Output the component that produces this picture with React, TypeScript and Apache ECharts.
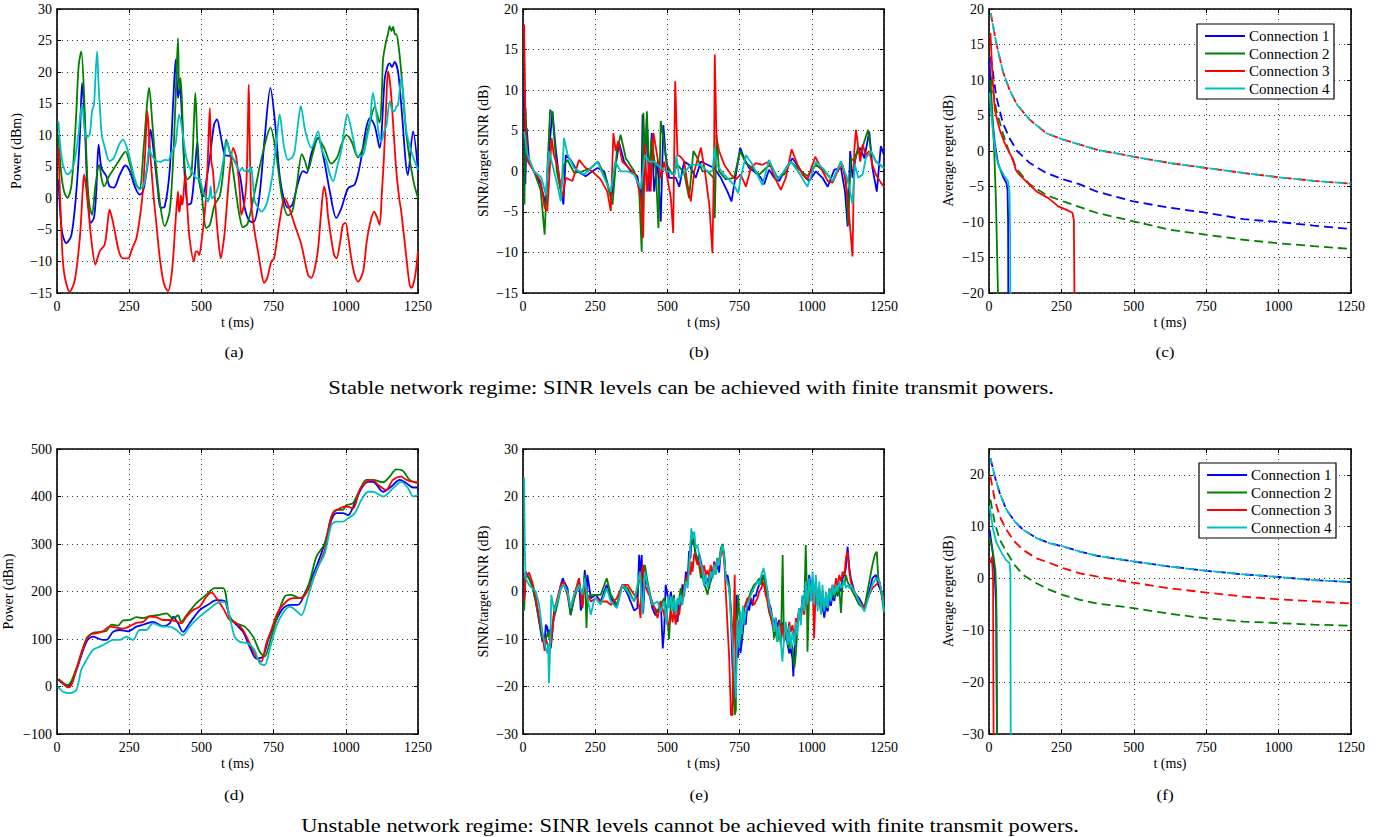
import React, { useEffect, useRef } from "react";
import * as echarts from "echarts";

// ---------------- data ----------------
const T_MIN = 0;
const T_MAX = 1250;
const T_STEP = 250;
const CONNECTIONS = ["Connection 1", "Connection 2", "Connection 3", "Connection 4"];
const PANEL_LABELS = ["(a)", "(b)", "(c)", "(d)", "(e)", "(f)"];
const CAPTIONS = [
  "Stable network regime: SINR levels can be achieved with finite transmit powers.",
  "Unstable network regime: SINR levels cannot be achieved with finite transmit powers.",
];
const Y_TITLES = [
  "Power (dBm)",
  "SINR/target SINR (dB)",
  "Average regret (dB)",
  "Power (dBm)",
  "SINR/target SINR (dB)",
  "Average regret (dB)",
];
// [min, max, interval]
const Y_RANGES = [
  [-15, 30, 5],
  [-15, 20, 5],
  [-20, 20, 5],
  [-100, 500, 100],
  [-30, 30, 10],
  [-30, 25, 10],
];

// (a) stable power
const stablePower1 = [[5,3],[9,-0.5],[17,-5.2],[32,-7.1],[50,-5.8],[67,1.1],[79,9.6],[87,18.3],[96,12.2],[105,1.6],[117,-3.9],[128,-3.1],[136,1.1],[144,8.5],[154,4.8],[171,3.5],[182,1.9],[197,1.7],[217,3.7],[237,5.2],[252,4.3],[269,1.9],[286,0.6],[298,1.1],[315,5.9],[324,10.9],[336,6.9],[350,1.1],[359,-1.5],[373,-1.3],[390,4.3],[402,14.9],[411,22],[419,15.9],[425,17.8],[433,12.7],[444,2.2],[454,-1],[465,-0.7],[477,4.3],[486,9],[494,2.7],[506,0.3],[511,1.1],[529,6.4],[544,11.7],[554,12.5],[566,10.1],[581,6.9],[598,6.7],[615,5.9],[633,3.7],[650,-1.5],[665,-3.5],[680,-3.8],[700,0],[720,10],[739,17.5],[755,12],[770,4],[785,0],[800,-1.5],[815,-1],[835,2.5],[852,4.3],[865,4],[880,7],[904,9.6],[925,6],[945,1],[967,-3.1],[985,-1.5],[1008,1.6],[1031,2.2],[1050,5.5],[1070,11],[1083,12.7],[1100,11.5],[1117,8],[1135,19],[1145,21],[1152,21.4],[1160,20.8],[1169,21.6],[1181,20],[1192,14.8],[1215,3.7],[1233,10.6],[1250,4.3]];
const stablePower2 = [[5,10],[15,3.8],[25,1],[36,0.1],[50,2],[65,12],[75,21],[84,23.3],[95,15],[105,3],[112,-1],[121,-2.6],[133,2],[146,5.3],[155,3],[163,1.9],[180,3.5],[194,4.5],[215,6],[237,7.4],[255,5],[275,2],[286,1.6],[300,8],[312,15],[319,17.5],[330,12],[338,7.4],[356,-0.5],[373,-4.4],[390,-2.1],[402,6],[410,14.9],[419,25.4],[423,17],[428,19.1],[440,6.4],[451,3],[465,3.8],[474,12],[479,16.7],[485,10],[491,3],[500,1],[517,-4.7],[529,-4.2],[546,-1],[563,0.3],[575,4],[586,9.3],[604,6],[621,0.5],[633,-3],[644,-4.6],[660,-4],[680,0],[702,5],[725,9.5],[739,11.2],[759,7],[780,0],[800,-2.7],[815,-2],[830,2],[848,7],[858,6],[869,4.5],[885,7],[904,9.5],[925,8],[950,5.5],[970,6.5],[985,8.5],[1002,10],[1020,9],[1042,6.5],[1060,8],[1083,12],[1100,14.5],[1117,12],[1125,17],[1129,22],[1140,25],[1146,26],[1152,27.3],[1158,26.5],[1164,27.2],[1170,26],[1175,26],[1183,24],[1192,20],[1210,10],[1233,3],[1250,0]];
const stablePower3 = [[5,8],[15,-5],[24,-11.6],[44,-14.8],[61,-13.1],[79,-6.3],[90,2],[94,3.8],[100,2],[107,-1],[120,-7],[133,-10.5],[140,-9.5],[148,-8.4],[165,-7.3],[175,-4],[182,-1.8],[190,-3],[200,-5.2],[215,-8.5],[229,-9.5],[246,-9.5],[260,-8],[275,-6.3],[290,-2],[298,1.6],[305,7],[313,13.8],[320,9],[332,1.6],[345,-4.5],[356,-9.5],[370,-13.5],[384,-14.7],[398,-11.6],[410,-4],[419,1.1],[422,-2],[425,-2.1],[429,0.5],[433,-1],[436,-0.5],[444,3.8],[452,-2],[459,-6.3],[474,-10],[480,-8.5],[486,-8.4],[492,-9],[500,-7],[514,-1],[522,6],[529,14.3],[534,6],[540,4.3],[550,-2],[558,-6.3],[567,-9.5],[575,-7.5],[581,-5.2],[590,0],[598,4.3],[610,8],[621,6.4],[633,1.1],[638,-2.6],[648,-1],[656,2.7],[662,14],[664,18],[667,10],[673,-1],[685,-5.5],[696,-8.4],[707,-11.5],[717,-13.4],[728,-12.6],[742,-10],[752,-9.5],[771,-3.6],[788,0],[800,-1],[823,-4.2],[846,-7.3],[869,-12.1],[881,-12.6],[893,-11],[904,-8],[915,-2],[925,1.9],[933,0],[939,-3],[959,-8.9],[968,-9.5],[980,-7],[990,-4.2],[999,-3.9],[1008,-6],[1019,-9.5],[1030,-12],[1042,-13.2],[1060,-11.6],[1072,-7],[1083,-4.2],[1098,-2.1],[1108,-3],[1117,-4.2],[1125,1],[1132,6.4],[1140,15],[1146,20.1],[1155,17.5],[1167,9.6],[1175,4.3],[1185,0],[1192,-2.1],[1210,-9.5],[1221,-13.7],[1227,-14.2],[1239,-12.6],[1250,-8.4]];
const stablePower4 = [[5,12.2],[12,8],[21,5.3],[36,3.8],[55,4.8],[73,9.6],[80,13],[87,14.8],[95,11],[102,9.6],[113,10.1],[122,14],[128,14.8],[134,20],[139,23.3],[144,18],[148,14.8],[155,10],[163,8.5],[182,5.9],[197,6.4],[215,8.5],[229,9.3],[246,7.4],[269,3.2],[286,1.4],[301,2.2],[312,5],[319,8],[326,7],[344,5.9],[360,5.8],[373,6.1],[385,6],[396,7.2],[410,8.5],[416,11],[423,13.3],[436,10.1],[448,6.4],[465,4.3],[482,3.2],[494,3],[506,1.1],[515,0],[523,-0.5],[528,0.5],[532,1.9],[536,0],[540,0.1],[552,1],[563,2.7],[581,7.4],[589,9],[597,7.5],[604,6.9],[621,5.3],[633,4.3],[640,4.8],[650,4.3],[660,4.6],[667,4],[672,5],[676,3.8],[685,-0.5],[697,-1.5],[708,-2.1],[725,-1],[740,2],[748,4.3],[760,9],[771,13.3],[785,8.5],[800,6.1],[815,6.5],[823,7.5],[835,12],[844,14.6],[860,10.6],[881,8],[904,10.6],[915,8],[933,5.9],[945,3.8],[956,2.7],[970,5],[985,7.7],[995,11],[1005,13.3],[1025,9.6],[1042,6.7],[1060,6.9],[1075,10],[1083,11.6],[1094,16.7],[1106,13.3],[1115,10],[1123,9],[1132,10.5],[1141,11.6],[1152,15.4],[1160,14],[1167,13.8],[1175,14.5],[1181,14.8],[1192,19.1],[1200,16],[1210,10.6],[1227,7.4],[1250,4.5]];

// (b) stable SINR / target
const stableSinr1 = [[5,10],[8,-1.6],[13,5.3],[21,1.2],[38,0],[61,-1.6],[79,-4.1],[90,2.5],[102,7.4],[113,2.9],[125,-0.8],[140,-4.1],[148,2],[165,1.4],[188,0],[217,-0.6],[240,0],[258,0.4],[281,0],[306,-3.3],[321,0.8],[333,3.5],[350,1.2],[373,0],[396,-0.6],[410,-3.7],[414,7],[419,-2.5],[429,6.6],[437,-2.5],[446,4.7],[454,-2.5],[466,1.2],[477,-6.2],[486,5.7],[494,2],[506,-0.8],[529,-0.8],[541,-1.9],[558,1.2],[575,0.8],[598,-0.8],[616,1.2],[639,0.8],[662,0.4],[685,-0.8],[708,-2.5],[722,-3.7],[737,-0.4],[752,2.9],[766,1.6],[783,0.4],[800,0],[824,-0.8],[835,-1.6],[852,0.2],[870,-0.8],[887,-1.2],[904,0],[933,1.6],[956,0.4],[979,-0.8],[991,-1.2],[1014,0],[1037,-0.8],[1055,-1.9],[1078,0.2],[1101,0.4],[1115,-2.5],[1124,-6.8],[1133,2.5],[1141,-0.8],[1153,2],[1168,2.9],[1182,1.6],[1199,4.9],[1210,0.4],[1225,-2.5],[1239,3.1],[1250,2]];
const stableSinr2 = [[5,-4.1],[9,7.8],[15,1.6],[38,0],[61,-2.3],[75,-7.8],[84,0],[94,7.6],[102,7],[117,0],[131,-2.5],[142,0.8],[154,1.4],[177,-0.2],[206,0],[235,0.4],[260,1.2],[286,-0.8],[310,-4.1],[325,2.5],[338,4.5],[356,1.6],[385,0],[402,-2.1],[411,-9.9],[417,7.2],[423,0.8],[429,7.4],[437,-0.8],[445,4.1],[460,0],[469,-7],[477,6.2],[486,4.1],[498,0.8],[517,-0.4],[535,0.8],[558,-0.2],[575,-3.3],[590,2.5],[604,1.6],[621,0],[639,0],[660,-0.8],[664,-5.8],[670,4.5],[679,0],[702,-1],[731,-0.8],[752,2.5],[772,1],[795,0.4],[818,-0.4],[841,0.4],[858,0.8],[881,-0.8],[904,-0.4],[927,1.2],[956,0.2],[985,-0.6],[1014,0.8],[1043,0],[1072,-1.2],[1101,1.2],[1118,-0.8],[1126,-6.6],[1135,1.6],[1149,1.2],[1160,3],[1168,2],[1182,3.7],[1195,5.1],[1205,2.5],[1222,1.2],[1250,0.4]];
const stableSinr3 = [[4,18.1],[9,4.9],[17,1.2],[38,0],[61,-1.2],[75,-4.5],[84,-4.9],[94,1],[99,4.1],[107,2],[121,0.4],[136,-3.3],[148,-0.8],[171,-1.2],[194,1.4],[217,0.4],[240,0],[269,-1],[292,-2.5],[304,-4.9],[313,4.7],[321,2.5],[330,3.7],[344,1.2],[367,0.4],[390,-0.4],[408,-3.3],[416,-8.2],[422,3.3],[429,-2.5],[437,1.2],[442,-2.5],[452,4.7],[466,1.6],[477,-0.8],[489,1.2],[500,-0.8],[512,-3.3],[520,-7.6],[527,11.1],[535,2],[546,1.8],[558,1.2],[570,-1.7],[581,-3.7],[593,0],[616,2.9],[630,0],[645,-4.1],[656,-10.1],[662,2.9],[664,14.4],[670,4.1],[679,2.5],[697,0.8],[720,-0.4],[737,-1],[754,-0.4],[772,-1.9],[789,0.4],[806,1],[829,0.8],[852,1.2],[872,-0.8],[893,-2.3],[910,-0.8],[930,2.7],[951,0.8],[968,-0.4],[985,-1],[1012,1.8],[1032,0.4],[1055,-1.2],[1072,-1.4],[1089,0],[1107,0.8],[1122,-2.5],[1130,-5.8],[1141,-10.5],[1147,2.5],[1153,5.1],[1161,2.9],[1168,1.2],[1176,3.3],[1187,2],[1199,2.5],[1210,0.8],[1222,-0.4],[1239,-1.4],[1250,-1.9]];
const stableSinr4 = [[4,4.9],[15,2.1],[38,0],[64,-0.8],[79,-2.9],[90,2.5],[102,0.8],[119,-1.7],[131,-3.7],[142,4.1],[154,2.1],[177,0.4],[211,-0.4],[235,0.4],[258,1.2],[281,-0.8],[304,-2.5],[319,1.2],[338,0],[362,0],[385,-0.4],[408,-2.1],[422,2],[437,1.2],[454,1.2],[477,0.4],[500,0],[526,-0.4],[531,2],[541,-0.8],[558,-0.2],[581,0.8],[604,0.8],[616,0.8],[639,0],[656,0],[664,2.9],[670,0.8],[697,-0.4],[731,-1.7],[745,-2.7],[754,-0.8],[772,2],[795,0.8],[829,-1.7],[852,1.4],[881,-1],[904,0],[927,1.2],[956,-0.2],[985,-1.9],[1014,1.2],[1043,0.2],[1072,-1.2],[1101,1.2],[1122,-0.8],[1133,-2.5],[1141,-4.1],[1149,0.8],[1161,-0.8],[1176,-0.4],[1187,1.6],[1205,2.5],[1222,1.2],[1250,0.4]];

// (c) stable average regret (solid) and bound (dashed)
const stableRegret1 = [[2,12.9],[8,5.8],[20,1.1],[31,-1.7],[48,-3.6],[60,-4.5],[64,-5.5],[66,-10],[67,-25]];
const stableRegret2 = [[5,10],[12,5],[18,0],[24,-7],[31,-20],[32,-25]];
const stableRegret3 = [[5,16.6],[12,10.5],[20,5.8],[37,3],[54,1.1],[71,-0.3],[83,-1.2],[92,-2.6],[100,-3.1],[129,-4.3],[164,-5.7],[204,-6.6],[239,-7.8],[268,-8.3],[288,-8.7],[293,-9.7],[296,-25]];
const stableRegret4 = [[2,8.2],[14,2.5],[25,-0.8],[37,-2.4],[54,-3.6],[66,-4.3],[71,-5.9],[73,-12],[74,-25]];
const stableBound1 = [[6,13.3],[25,7.7],[48,3.9],[71,1.8],[97,0],[141,-1.7],[198,-3.1],[256,-4],[314,-4.7],[371,-5.7],[498,-7.1],[625,-8],[752,-8.7],[879,-9.6],[1000,-10],[1121,-10.5],[1250,-11]];
const stableBound2 = [[6,10.5],[25,5.8],[48,2.5],[71,-0.3],[97,-2.6],[141,-4.7],[198,-6.2],[256,-7.1],[371,-8.7],[498,-9.9],[625,-11.1],[752,-11.8],[879,-12.5],[1000,-13],[1121,-13.4],[1250,-13.8]];
const stableBound34 = [[6,19.4],[25,15.2],[48,11.2],[71,8.6],[97,6.5],[141,4.4],[198,2.5],[256,1.6],[314,0.9],[371,0.2],[498,-0.8],[625,-1.7],[752,-2.4],[879,-3.1],[1000,-3.7],[1121,-4.2],[1250,-4.6]];

// (d) unstable power
const unstablePower1 = [[5,14],[38,0],[67,35],[102,94],[125,105],[159,98],[171,98],[194,115],[217,119],[246,116],[275,126],[298,130],[332,136],[367,127],[390,133],[402,147],[419,133],[436,115],[459,133],[494,161],[523,172],[552,182],[580,180],[598,147],[621,130],[644,115],[667,84],[690,59],[713,63],[731,98],[754,133],[782,164],[811,172],[834,172],[863,203],[898,252],[927,301],[950,350],[967,365],[990,365],[1008,361],[1031,386],[1054,417],[1077,431],[1094,431],[1129,410],[1158,421],[1187,435],[1210,428],[1233,419],[1250,419]];
const unstablePower2 = [[5,16],[21,8],[38,3],[67,38],[102,101],[125,113],[148,115],[171,117],[188,130],[211,128],[229,139],[252,140],[275,146],[298,144],[321,148],[355,151],[379,154],[402,143],[419,150],[430,136],[448,150],[482,175],[517,193],[546,207],[575,207],[598,147],[621,133],[650,126],[679,105],[702,73],[719,63],[736,91],[759,140],[788,189],[811,193],[840,186],[869,210],[898,273],[927,301],[950,358],[967,372],[990,372],[1002,382],[1025,386],[1048,414],[1071,435],[1094,435],[1129,430],[1152,442],[1175,457],[1198,454],[1221,435],[1250,428]];
const unstablePower3 = [[5,15],[21,6.7],[38,-1.8],[50,3],[67,35],[84,70],[102,98],[119,110.5],[136,112],[159,116],[182,126],[205,124],[229,122],[252,127],[275,134],[298,136],[321,147],[344,146],[367,140],[390,140],[413,137],[430,133],[448,147],[471,161],[494,168],[517,189],[535,197.5],[552,186],[575,165],[598,140],[621,133],[644,119],[667,91],[690,63],[707,52],[725,91],[742,119],[765,157],[794,179],[817,186],[846,186],[875,210],[904,252],[927,287],[944,343],[956,365],[979,375],[1002,379],[1025,375],[1048,414],[1071,431],[1094,435],[1111,425],[1140,414],[1163,435],[1192,442],[1210,435],[1233,431],[1250,430]];
const unstablePower4 = [[3,0],[21,-11],[44,-14],[67,-7],[84,35],[102,56],[125,77],[148,84],[171,91],[194,98],[217,98],[240,105],[263,98],[286,119],[309,119],[332,133],[367,126],[390,126],[413,119],[436,108],[459,126],[494,147],[523,161],[552,175],[580,178],[598,147],[615,105],[633,94],[661,91],[684,77],[702,49],[719,45],[736,77],[759,126],[782,154],[806,168],[829,159],[846,150],[869,189],[898,245],[927,280],[950,340],[967,347],[990,347],[1008,354],[1031,365],[1054,393],[1077,410],[1094,410],[1129,400],[1163,417],[1192,431],[1215,418],[1233,400],[1250,403]];

// (e) unstable SINR / target
const unstableSinr1 = [[4,-1],[9,4.2],[21,2.8],[32,1.4],[44,-2.1],[56,-6.4],[67,-10.5],[75,-10.5],[79,-7],[84,-7.5],[87,-9.5],[92,-8],[96,-12],[102,-8.5],[108,-3.5],[119,-2],[131,1.4],[138,2.8],[142,2.1],[154,0.7],[165,-5],[177,-1.5],[190,1],[194,2.5],[200,-4],[206,-2.8],[214,4.5],[220,-1],[223,3.5],[235,-1.4],[252,-0.7],[269,-2.1],[290,1.4],[304,-1.4],[325,-3.2],[344,1.4],[362,-0.5],[385,-4],[396,-3.5],[402,7.7],[407,3],[411,7.7],[416,-4.5],[422,2.5],[431,1.4],[448,-3.5],[458,-5],[466,-4],[472,-3.5],[477,-2],[484,-12],[489,-8],[494,1.4],[500,-0.5],[506,-3],[512,0],[518,-2.8],[523,-5],[529,-4],[535,-6.4],[541,-1.4],[546,-3],[552,1.5],[558,-1],[564,4.2],[570,2],[575,8.5],[580,7],[583,11],[587,12.5],[593,9.8],[598,7.5],[604,6],[610,8],[616,6.3],[621,4.9],[627,3],[633,1.5],[639,2.8],[645,0.7],[650,4.9],[656,2.8],[662,6.3],[667,4.2],[673,5.5],[679,4],[685,8.5],[691,9.8],[697,7],[702,2.8],[708,3.5],[714,1.4],[720,-5],[725,-15],[731,-24],[735,-20],[740,-0.7],[744,-14],[749,-8.5],[753,-13],[757,-11],[762,-8],[766,-5.6],[771,-7],[777,-2.8],[783,-4],[789,-1.4],[795,-3],[800,-0.7],[806,-1],[812,0.5],[818,1.4],[825,2.5],[833,3.5],[840,1.4],[847,-0.7],[852,-2.5],[858,-3.5],[863,-5.5],[870,-7.1],[875,-5.5],[881,-7.5],[887,-6],[893,-8.5],[898,-6.5],[904,-10.6],[910,-9],[916,-11],[922,-13],[927,-12],[933,-14.1],[936,-17.9],[940,-12],[945,-9.9],[950,-7],[956,-3.5],[962,-5],[968,-1],[974,-2.5],[979,1.4],[985,-0.7],[991,3.5],[997,0.5],[1003,2.8],[1008,-1.4],[1014,1.4],[1020,-2.8],[1026,-1],[1032,-4.5],[1037,-2.5],[1043,-5.5],[1049,-3],[1055,-4.2],[1061,-1.5],[1066,-3],[1072,-0.7],[1078,-2],[1084,0.7],[1089,-1],[1095,1.5],[1101,0],[1107,2.8],[1113,3.5],[1118,5],[1124,9.4],[1130,5],[1135,2.8],[1141,1.4],[1147,0],[1153,-0.7],[1164,-1.4],[1182,-3.5],[1199,0],[1210,2.8],[1222,3.5],[1230,1.4],[1240,0],[1250,-3]];
const unstableSinr2 = [[4,-4],[9,3.5],[21,2.8],[32,1],[44,-2],[56,-6],[67,-10],[79,-10],[87,-8.5],[96,-11],[102,-7],[108,-5.5],[119,-2.8],[131,0.7],[142,1.4],[154,-0.7],[165,-4.9],[177,-1.4],[194,2.1],[206,-2.1],[214,3.5],[220,-7.7],[223,-1.4],[235,-0.7],[252,-0.7],[269,-0.7],[290,2.8],[304,-0.7],[325,-2.8],[344,1.4],[362,0.7],[385,-2.1],[396,0],[405,3.5],[414,2.1],[422,5.6],[431,2.1],[448,-2.8],[466,-4.2],[477,-2.8],[489,-1.4],[497,-3.5],[506,-10],[512,-2],[518,-2.8],[523,-0.7],[529,-5.6],[535,-2],[541,-1.4],[546,0.7],[552,-2.1],[558,0.7],[564,2.8],[570,1.4],[575,5.6],[580,10],[583,12],[587,9.8],[593,10.5],[598,8],[604,7],[610,5.5],[616,2.8],[621,3.5],[627,1.4],[633,0.7],[639,-0.7],[645,1.4],[650,2.1],[656,3.5],[662,4.9],[667,3.5],[673,7],[679,6.3],[685,9.1],[691,10],[697,7.7],[702,2.8],[714,1.4],[725,-8],[729,-20],[733,-26],[737,-25],[740,-7],[745,-0.7],[749,-5],[757,-10],[762,-5],[766,-3.5],[777,-2.1],[789,0],[800,1.4],[812,2.1],[818,2.8],[825,1.4],[833,3.5],[840,1.4],[847,-2.1],[852,-4.2],[858,-5.6],[864,-7],[870,-9.9],[875,-7.7],[881,-10.6],[887,-8.5],[893,-11.3],[899,7.7],[903,-8],[910,-10],[916,-9],[922,-12],[927,-10],[933,-12],[940,-16],[945,-13],[950,-8],[956,-4],[962,-6],[968,-1.4],[974,-3],[979,9.8],[983,0],[985,-12.7],[990,-2],[995,1.4],[1003,0.7],[1008,-0.7],[1014,2.1],[1020,-2.8],[1026,-0.7],[1032,-4.2],[1037,-2.1],[1043,-3.5],[1049,-1.4],[1055,-2.8],[1061,-0.7],[1066,-1.4],[1072,0],[1078,-1.4],[1084,0.7],[1089,-0.7],[1095,0.7],[1101,-4.5],[1107,2.1],[1113,1.4],[1118,3.5],[1124,2],[1130,1.4],[1135,0.7],[1147,-0.7],[1164,-2.8],[1182,-3.5],[1199,2.1],[1210,5.6],[1218,7.7],[1225,8.4],[1230,3],[1240,0],[1250,-4.5]];
const unstableSinr3 = [[4,-2],[9,3],[21,4],[32,2],[44,-1],[56,-5.6],[67,-9],[75,-12.5],[79,-10],[87,-11.5],[96,-11],[102,-8],[108,-4.2],[119,-1.4],[131,1.4],[142,2.1],[154,-0.7],[165,-3.5],[177,-0.7],[194,2.8],[206,-3.5],[214,2.8],[223,-0.7],[235,-2.1],[252,-1.4],[269,-2.1],[290,-2.1],[304,-2.8],[325,-1.4],[344,1.4],[362,1.4],[385,-0.7],[396,-1.4],[402,-3],[407,-5.6],[411,4.2],[416,5.6],[422,1.4],[431,0],[448,-2.1],[466,-5.6],[477,-2.1],[489,-4.9],[497,-6.4],[506,-7.1],[512,-4],[518,-6.5],[523,-4],[529,-7],[535,-4],[541,-5],[546,-2],[552,-2.1],[558,1.4],[564,2.1],[570,3.5],[575,4.5],[580,3.5],[583,6.3],[587,4.2],[593,8],[598,7],[604,5.6],[610,6.3],[616,4.5],[621,3.5],[627,5.5],[633,3.5],[639,4.5],[645,2.8],[650,5.6],[656,3.5],[662,6],[667,5],[673,7],[679,6.3],[685,7.7],[691,9.1],[697,6.3],[702,0],[708,-7],[714,-14],[720,-26],[725,-26],[729,-10],[733,3.5],[737,-16],[742,-10],[749,-6],[757,-8],[766,-3.5],[777,-1.4],[789,-1.4],[800,-2.8],[812,-1.4],[818,0],[825,0.7],[833,2.1],[840,-0.7],[847,-2.1],[852,-4.2],[858,-5],[864,-7],[870,-8],[875,-6.4],[881,-9.9],[887,-6.4],[893,-9.2],[898,-7.1],[904,-10.6],[910,-7.8],[916,-9.2],[922,-6.4],[927,-8.5],[933,-7.1],[940,-9.9],[945,-5.6],[950,-7],[956,-4.2],[962,-5.6],[968,-2.8],[974,-4.9],[979,-0.7],[985,-2.8],[991,0],[997,-1.4],[1003,2.1],[1008,-9.9],[1014,1.4],[1020,-1.4],[1026,0.7],[1032,-2.8],[1037,-0.7],[1043,-3.5],[1049,-1.4],[1055,-2.1],[1061,0.7],[1066,-0.7],[1072,1.4],[1078,0],[1084,2.8],[1089,0.7],[1095,3.5],[1101,2.1],[1107,4.2],[1113,3.5],[1118,7],[1124,8.4],[1130,4.2],[1135,2.1],[1141,0.7],[1147,0],[1164,-2.1],[1182,-3.5],[1199,-0.7],[1210,0.7],[1222,1.4],[1234,2.1],[1244,-0.7],[1250,-2]];
const unstableSinr4 = [[4,24],[6,10],[9,2.8],[21,1.4],[32,0.7],[44,0],[56,-2.8],[67,-8.5],[79,-12],[84,-13],[87,-11],[90,-19.3],[94,-12],[98,-0.7],[102,-2],[108,-4.2],[119,-2.1],[131,0.7],[142,1.4],[154,0],[165,-3.5],[177,-0.7],[194,1.4],[206,-0.7],[214,2.8],[223,-1.4],[235,-4.9],[245,-2.1],[252,-1.4],[269,-2.8],[290,0.7],[304,-2.1],[325,-3.5],[344,1.4],[362,0],[385,-2.1],[396,1.4],[405,4.2],[414,-4.9],[422,4.2],[431,1.4],[448,-2.8],[466,-2.1],[477,-4.2],[489,-2.1],[497,-7],[502,-1],[506,-3.5],[512,-1],[518,-4.2],[523,-1.4],[529,-4.9],[535,-1.4],[541,-2.8],[546,-0.7],[552,-2.8],[558,0],[564,2.1],[570,0.7],[575,4.9],[580,9.8],[583,13.3],[587,11],[593,12.6],[598,9.1],[604,9.8],[610,7.7],[616,5.6],[621,5],[627,1.4],[633,3.5],[639,0.7],[645,2.1],[650,4.2],[656,2.8],[662,5.6],[667,3.5],[673,7],[679,5.6],[685,8.4],[691,9.8],[697,7],[702,2.8],[714,0.7],[720,-6],[725,-10],[729,-14],[733,-18],[737,-22.5],[742,-6],[749,-12],[753,-4],[757,-9],[762,-3],[766,-7],[771,-4.2],[777,-2.8],[789,-0.7],[800,0.7],[812,2.1],[818,1.4],[825,3.5],[833,4.9],[840,2.8],[847,0],[852,-2.8],[858,-4.2],[864,-5.6],[870,-8.5],[875,-5.6],[881,-10.6],[887,-7.1],[893,-10.6],[898,-14.8],[904,-9.9],[910,-6.4],[916,-11.3],[922,-7.1],[927,-12],[933,-8.5],[940,-11.3],[945,-6.4],[950,-9.2],[956,-3.5],[962,-7.1],[968,-0.7],[974,-4.2],[979,2.1],[985,-2.8],[991,2.8],[997,-2.1],[1003,4.2],[1008,-2.8],[1014,3.5],[1020,-4.2],[1026,2.1],[1032,-4.9],[1037,1.4],[1043,-4.2],[1049,0],[1055,-3.5],[1061,0.7],[1066,-2.1],[1072,1.4],[1078,-0.7],[1084,1.4],[1089,0],[1095,2.1],[1101,0.7],[1107,1.4],[1113,2.1],[1118,0.7],[1124,1.4],[1130,0.7],[1135,1.4],[1147,0],[1164,-2.1],[1182,-4.2],[1199,-0.7],[1210,1.4],[1222,2.8],[1234,2.1],[1244,-0.7],[1250,-4.2]];

// (f) unstable average regret (solid) and bound (dashed)
const unstableRegret1 = [[2,9.4],[12,5.5],[20,0.4],[25,-6],[28,-35]];
const unstableRegret2 = [[2,8.1],[14,4.9],[22,1.7],[25,-3],[28,-35]];
const unstableRegret3 = [[5,3],[10,4.2],[14,0],[16,-35]];
const unstableRegret4 = [[2,14],[14,9.5],[25,7],[43,5],[60,3.5],[71,3],[74,1],[75,-35]];
const unstableBound14 = [[5,23.2],[20,19.7],[37,16.5],[60,13.3],[89,11],[118,9.4],[164,7.8],[210,6.8],[256,6.2],[314,5.2],[371,4.4],[498,3.3],[625,2.3],[752,1.5],[879,0.8],[1000,0.3],[1121,-0.3],[1250,-0.7]];
const unstableBound2 = [[5,15.2],[20,10.7],[37,7.5],[60,5.2],[89,2.6],[118,0.7],[164,-0.9],[210,-2.2],[256,-3.2],[314,-4.1],[371,-4.8],[498,-5.7],[625,-6.8],[752,-7.7],[879,-8.3],[1000,-8.6],[1121,-8.9],[1250,-9.1]];
const unstableBound3 = [[5,19.7],[20,15.2],[37,12],[60,9.4],[89,7.1],[118,5.5],[164,3.9],[210,3],[256,2],[314,1],[371,0.4],[498,-0.8],[625,-1.9],[752,-2.7],[879,-3.5],[1000,-4],[1121,-4.4],[1250,-4.8]];

// ---------------- layout & style ----------------
const FONT = '"Liberation Serif", "Times New Roman", serif';
const COLORS = ["#0000ff", "#008000", "#ff0000", "#00bfbf"];
const GRIDS = [
  { left: 57, top: 9, width: 361, height: 284, nameGap: 34, smooth: 0.3 },
  { left: 523, top: 9, width: 361, height: 284, nameGap: 33, smooth: 0 },
  { left: 989, top: 9, width: 362, height: 284, nameGap: 34, smooth: 0 },
  { left: 57, top: 449, width: 361, height: 285, nameGap: 42, smooth: 0.3 },
  { left: 523, top: 449, width: 361, height: 285, nameGap: 33, smooth: 0 },
  { left: 989, top: 449, width: 362, height: 285, nameGap: 34, smooth: 0 },
];
const LABEL_POS = [[234, 352], [699, 352], [1165, 352], [234, 795], [699, 795], [1165, 795]];
const CAPTION_POS = [[691, 387], [690, 825]];
const LEGEND_BOX = [[1197, 24], [1199, 463]];

type Line = { data: number[][]; c: number; dash?: boolean; offset?: number; name?: string };

const PANEL_SERIES: Line[][] = [
  [stablePower1, stablePower2, stablePower3, stablePower4].map((d, c) => ({ data: d, c })),
  [stableSinr1, stableSinr2, stableSinr3, stableSinr4].map((d, c) => ({ data: d, c })),
  [
    { data: stableBound1, c: 0, dash: true },
    { data: stableBound2, c: 1, dash: true },
    { data: stableBound34, c: 2, dash: true },
    { data: stableBound34, c: 3, dash: true, offset: 4 },
    ...[stableRegret1, stableRegret2, stableRegret3, stableRegret4].map((d, c) => ({ data: d, c, name: CONNECTIONS[c] })),
  ],
  [unstablePower1, unstablePower2, unstablePower3, unstablePower4].map((d, c) => ({ data: d, c })),
  [unstableSinr1, unstableSinr2, unstableSinr3, unstableSinr4].map((d, c) => ({ data: d, c })),
  [
    { data: unstableBound14, c: 0, dash: true },
    { data: unstableBound2, c: 1, dash: true },
    { data: unstableBound3, c: 2, dash: true },
    { data: unstableBound14, c: 3, dash: true, offset: 4 },
    ...[unstableRegret1, unstableRegret2, unstableRegret3, unstableRegret4].map((d, c) => ({ data: d, c, name: CONNECTIONS[c] })),
  ],
];

const minus = (v: number) => String(v).replace("-", "\u2212");

function buildOption() {
  const grid: any[] = [];
  const xAxis: any[] = [];
  const yAxis: any[] = [];
  const series: any[] = [];
  const graphic: any[] = [];
  const axisLine = { show: true, onZero: false, lineStyle: { color: "#000", width: 1.6 } };
  const tick = { show: true, inside: true, length: 4, lineStyle: { color: "#000", width: 1 } };
  const split = { show: true, lineStyle: { color: "#333", type: [1, 4], width: 1 } };
  const label = { color: "#000", fontFamily: FONT, fontSize: 14 };

  GRIDS.forEach((g, i) => {
    grid.push({ left: g.left, top: g.top, width: g.width, height: g.height, containLabel: false });
    const [ymin, ymax, yint] = Y_RANGES[i];
    xAxis.push({
      gridIndex: i, type: "value", min: T_MIN, max: T_MAX, interval: T_STEP, position: "bottom",
      axisLine, axisTick: tick, splitLine: split,
      axisLabel: { ...label, margin: 6, formatter: minus },
      name: "t (ms)", nameLocation: "middle", nameGap: 22,
      nameTextStyle: { ...label },
    });
    xAxis.push({
      gridIndex: i, type: "value", min: T_MIN, max: T_MAX, interval: T_STEP, position: "top",
      axisLine, axisTick: tick, splitLine: { show: false }, axisLabel: { show: false },
    });
    yAxis.push({
      gridIndex: i, type: "value", min: ymin, max: ymax, interval: yint, position: "left",
      axisLine, axisTick: tick, splitLine: split,
      axisLabel: { ...label, margin: 5, formatter: minus, showMaxLabel: ymax % yint === 0 },
      name: Y_TITLES[i], nameLocation: "middle", nameGap: g.nameGap,
      nameTextStyle: { ...label },
    });
    yAxis.push({
      gridIndex: i, type: "value", min: ymin, max: ymax, interval: yint, position: "right",
      axisLine, axisTick: tick, splitLine: { show: false }, axisLabel: { show: false },
    });

    PANEL_SERIES[i].forEach((s) => {
      series.push({
        type: "line",
        name: s.name,
        xAxisIndex: 2 * i,
        yAxisIndex: 2 * i,
        data: s.data,
        symbol: "none",
        showSymbol: false,
        silent: true,
        clip: true,
        smooth: g.smooth || false,
        z: 2,
        lineStyle: {
          color: COLORS[s.c],
          width: 1.8,
          type: s.dash ? [9, 5] : "solid",
          dashOffset: s.offset || 0,
        },
      });
    });

    graphic.push({
      type: "text", x: LABEL_POS[i][0], y: LABEL_POS[i][1], z: 100, scaleX: 1.15,
      style: { text: PANEL_LABELS[i], fill: "#000", fontFamily: FONT, fontSize: 15, align: "center", verticalAlign: "middle" },
    });
  });

  CAPTIONS.forEach((t, i) => {
    graphic.push({
      type: "text", x: CAPTION_POS[i][0], y: CAPTION_POS[i][1], z: 100, scaleX: 1.18,
      style: { text: t, fill: "#000", fontFamily: FONT, fontSize: 19, align: "center", verticalAlign: "middle" },
    });
  });

  LEGEND_BOX.forEach(([bx, by]) => {
    graphic.push({
      type: "rect", z: 100, zlevel: 0,
      shape: { x: bx, y: by, width: 137, height: 75 },
      style: { fill: "#fff", stroke: "#000", lineWidth: 1.2 },
    });
    CONNECTIONS.forEach((name, k) => {
      const yy = by + 12 + k * 17.5;
      graphic.push({
        type: "line", z: 101,
        shape: { x1: bx + 8, y1: yy, x2: bx + 48, y2: yy },
        style: { stroke: COLORS[k], lineWidth: 2 },
      });
      graphic.push({
        type: "text", z: 101, x: bx + 52, y: yy,
        style: { text: name, fill: "#000", fontFamily: FONT, fontSize: 15, align: "left", verticalAlign: "middle" },
      });
    });
  });

  return { animation: false, backgroundColor: "#fff", grid, xAxis, yAxis, series, graphic };
}

export default function App() {
  const ref = useRef<HTMLDivElement>(null);
  useEffect(() => {
    if (!ref.current) return;
    const chart = echarts.init(ref.current, undefined, { renderer: "svg" });
    chart.setOption(buildOption() as any);
    return () => chart.dispose();
  }, []);
  return (
    <div
      ref={ref}
      style={{ position: "absolute", left: 0, top: 0, width: 1382, height: 837, background: "#fff" }}
    />
  );
}
